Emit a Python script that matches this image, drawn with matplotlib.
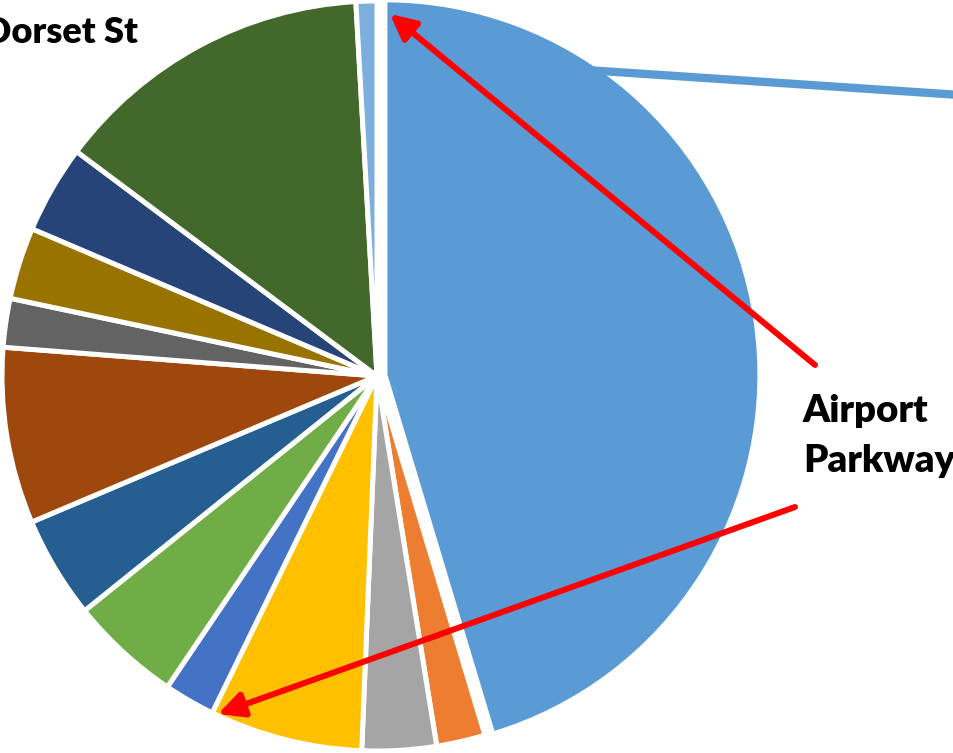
import matplotlib.pyplot as plt

# share of trips per stop (percent), clockwise from 12 o'clock
shares = [45.4, 2.1, 3.2, 6.6, 2.2, 4.8, 4.4, 7.6, 2.1, 3.1, 3.8, 13.9, 0.9]
colors = ['#5B9BD5', '#ED7D31', '#A5A5A5', '#FFC000', '#4472C4', '#70AD47',
          '#255E91', '#9E480E', '#636363', '#997300', '#264478', '#43682B',
          '#7CAFDD']
# pie() offsets exploded wedges in data units, here pixels
explode = [8] + [0] * (len(shares) - 1)

W, H = 954, 753
fig = plt.figure(figsize=(W / 100, H / 100), dpi=100)
ax = fig.add_axes([0, 0, 1, 1])

# y axis runs downwards so everything below is in pixel units;
# that makes counterclock=True go clockwise on screen
ax.pie(shares, colors=colors, explode=explode, center=(377, 376), radius=375,
       startangle=-90, counterclock=True,
       wedgeprops=dict(edgecolor='white', linewidth=3.6))
ax.set_xlim(0, W)
ax.set_ylim(H, 0)
ax.set_aspect('equal')
ax.axis('off')

# connector leaving the big slice
ax.plot([586, 960], [70, 95], color='#5B9BD5', lw=6, solid_capstyle='butt')

font = dict(family=['Lato', 'DejaVu Sans'], weight='heavy', color='black')
ax.text(138, 43, 'Dorset St', ha='right', va='baseline', fontsize=26, **font)
ax.text(803, 422, 'Airport', ha='left', va='baseline', fontsize=27.6, **font)
ax.text(803, 472, 'Parkway', ha='left', va='baseline', fontsize=27.6, **font)

arrow = dict(arrowstyle='-|>', color='red', lw=4.3, mutation_scale=38,
             shrinkA=0, shrinkB=0)
ax.annotate('', xy=(390, 14), xytext=(815, 365), arrowprops=arrow)
ax.annotate('', xy=(218, 714), xytext=(795, 507), arrowprops=arrow)

fig.savefig('out.png', dpi=100)
